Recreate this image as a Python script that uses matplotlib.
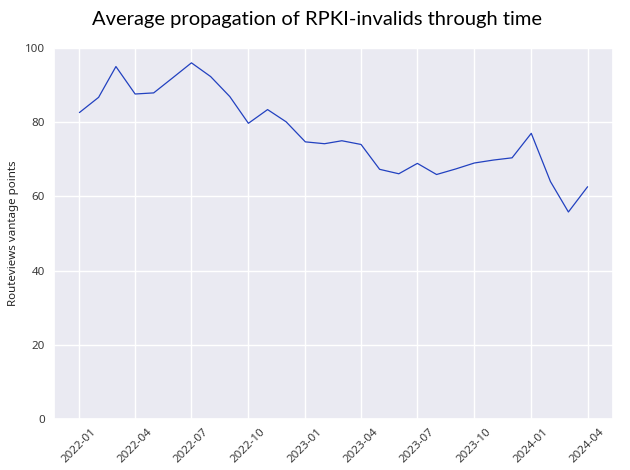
import matplotlib
matplotlib.use("Agg")
import matplotlib.pyplot as plt
import matplotlib.dates as mdates
import seaborn as sns
import pandas as pd

months = pd.date_range("2022-01-01", "2024-04-01", freq="MS")
values = [82.6, 86.7, 95.0, 87.6, 87.9, 92.0, 96.0, 92.3, 86.9, 79.7, 83.4, 80.1,
          74.7, 74.2, 75.0, 74.0, 67.3, 66.1, 68.9, 65.9, 67.4, 69.0, 69.8, 70.4,
          77.0, 64.0, 55.8, 62.6]
title = "Average propagation of RPKI-invalids through time"
ylabel = "Routeviews vantage points"

sns.set_theme(style="darkgrid")
plt.rcParams['font.family'] = ['Noto Sans', 'DejaVu Sans']

fig = plt.figure(figsize=(6.3, 4.7), dpi=100)
ax = fig.add_axes([54/630, 1-419/470, (613-54)/630, (419-48)/470])
ax.plot(months, values, color="#2241c0", linewidth=0.9)
ax.set_ylim(0, 100)
ax.set_yticks([0, 20, 40, 60, 80, 100])
ax.xaxis.set_major_locator(mdates.MonthLocator(bymonth=[1, 4, 7, 10]))
ax.xaxis.set_major_formatter(mdates.DateFormatter("%Y-%m"))
ax.tick_params(axis='both', labelsize=8.3, colors="#3a3a3a", length=0)
ax.tick_params(axis='x', pad=5.5)
ax.tick_params(axis='y', pad=6.5)
for lbl in ax.get_xticklabels():
    lbl.set_rotation(45)
    lbl.set_ha('center')
ax.set_ylabel(ylabel, fontsize=8.3, color="#222222")
ax.yaxis.set_label_coords((19 - 54) / 559, 0.5)
fig.text(0.503, 0.958, title, fontsize=14.5, family=['Lato', 'DejaVu Sans'],
         ha='center', va='center', color="#000000")
fig.savefig("out.png", dpi=100)
